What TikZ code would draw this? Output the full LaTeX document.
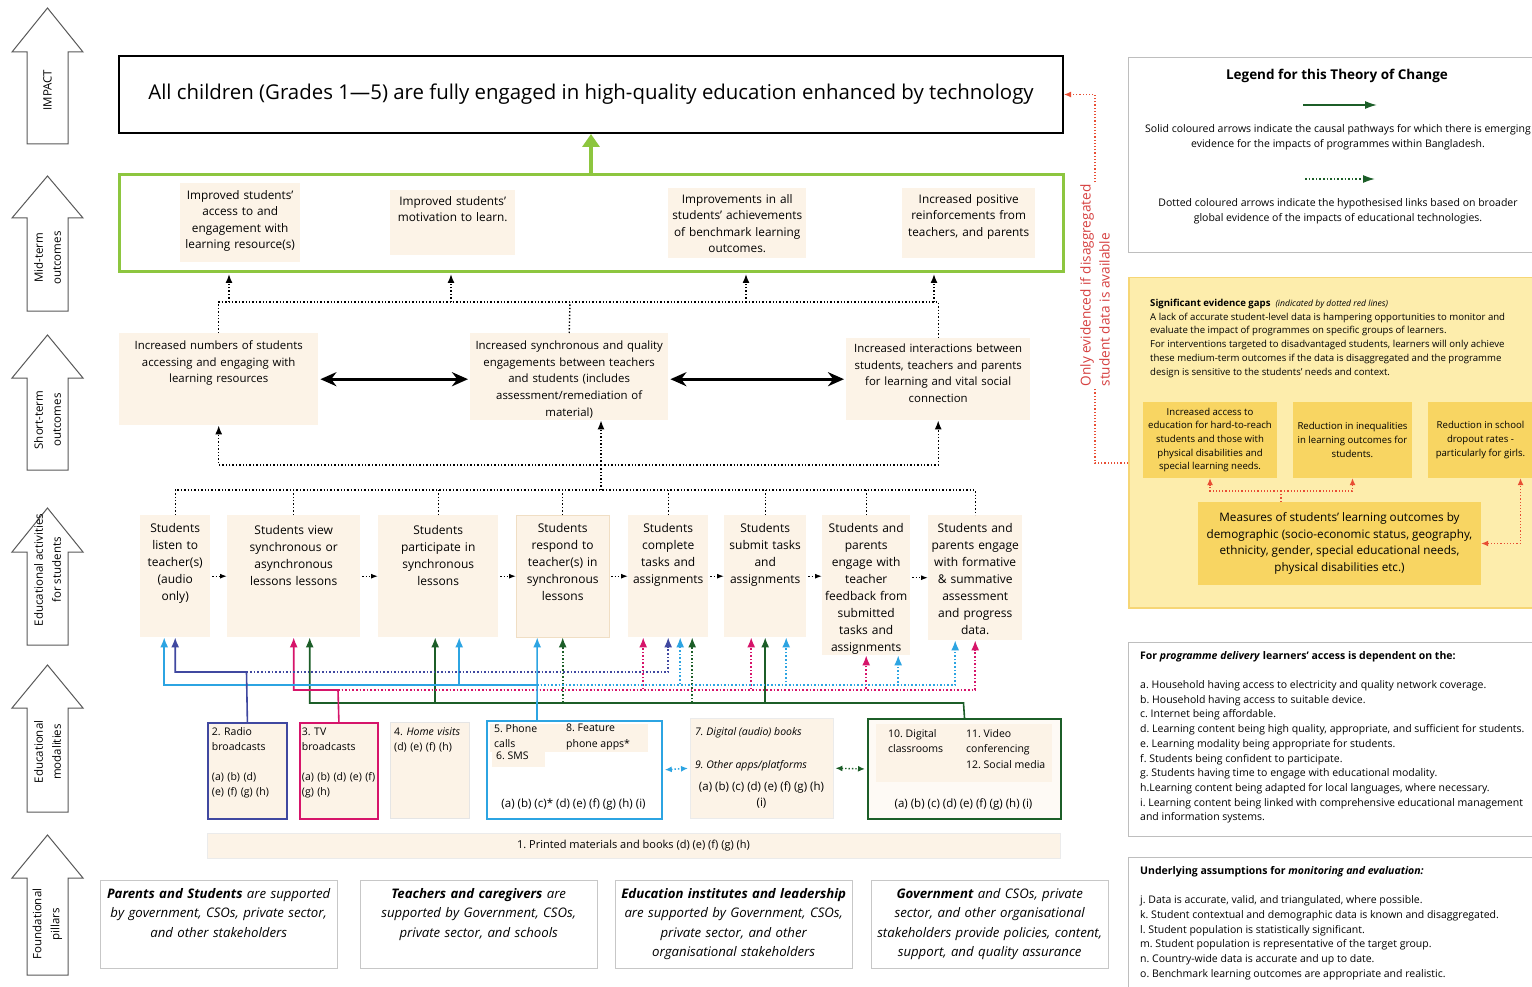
\documentclass[tikz,border=0pt]{standalone}
\usepackage{fontspec}
\setmainfont{Open Sans}
\usetikzlibrary{arrows.meta, positioning}

\definecolor{beige}{RGB}{252,243,231}
\definecolor{ltgreen}{RGB}{141,198,63}
\definecolor{navyline}{RGB}{64,72,160}
\definecolor{magline}{RGB}{214,20,106}
\definecolor{skyline}{RGB}{44,164,226}
\definecolor{dkgreen}{RGB}{28,94,40}
\definecolor{redline}{RGB}{232,78,52}
\definecolor{redtext}{RGB}{214,64,64}
\definecolor{panelfill}{RGB}{253,237,172}
\definecolor{paneledge}{RGB}{246,214,118}
\definecolor{gold}{RGB}{248,213,98}
\definecolor{frame}{RGB}{190,190,190}

\newcommand{\fs}[2]{\fontsize{#1}{#2}\selectfont}
\frenchspacing

\begin{document}
\begin{tikzpicture}[x=1pt, y=-1pt,
    bigarrow/.style = {draw=black!65, fill=white, line width=1pt},
    sidelab/.style = {rotate=90, align=center, font=\fs{11.5}{18}},
    cell/.style = {fill=beige, anchor=north west, align=center, inner xsep=3pt, inner ysep=0pt},
    midcell/.style = {cell, font=\fs{11.8}{16.5}},
    shortcell/.style = {cell, font=\fs{11.4}{16.8}, text height=16pt},
    actcell/.style = {cell, font=\fs{12}{17}, text height=17pt},
    modbox/.style = {fill=beige, anchor=north west, align=left, inner xsep=4pt, inner ysep=0pt, font=\fs{10.5}{15}, text height=13pt, text depth=83pt},
    modtext/.style = {anchor=north west, align=left, inner sep=0pt, font=\fs{10.5}{15.5}},
    pillar/.style = {draw=black!22, fill=white, anchor=north west, align=center, text width=233pt, inner xsep=2pt, inner ysep=0pt, text height=18pt, text depth=70pt, font=\itshape\fs{13.2}{19.5}},
    infobox/.style = {draw=frame, line width=1.2pt, anchor=north west},
    dotline/.style = {line width=1.4pt, dotted},
    dotarrow/.style = {dotline, -{Latex[length=9pt, width=7pt]}},
    steparrow/.style = {line width=1.2pt, dotted, -{Latex[length=7pt, width=5pt]}, shorten <=2pt},
    colarrow/.style = {line width=1.6pt, -{Latex[length=10pt, width=8pt]}},
    coldots/.style = {line width=1.6pt, dotted, -{Latex[length=10pt, width=8pt]}},
    moddots/.style = {line width=1.4pt, dotted, {Latex[length=7pt, width=6pt]}-{Latex[length=7pt, width=6pt]}, shorten <=2pt, shorten >=2pt},
    redarrow/.style = {redline, line width=1.2pt, dotted, -{Latex[length=7pt, width=6pt]}},
    gapcell/.style = {fill=gold, align=center, inner sep=0pt, font=\fs{9.6}{13.7}},
]
\fill[white] (0,0) rectangle (1532,987);
\useasboundingbox (0,0) rectangle (1532,987);

% level arrows on the left
\draw[bigarrow] (47.5,8) -- (83,52) -- (68,52) -- (68,144) -- (27,144) -- (27,52) -- (12,52) -- cycle;
\node[sidelab] (lvimpact) at (47.5,90) {IMPACT};
\draw[bigarrow] (47.5,176) -- (83,218) -- (68,218) -- (68,311) -- (27,311) -- (27,218) -- (12,218) -- cycle;
\node[sidelab] (lvmid) at (47.5,258) {Mid-term\\outcomes};
\draw[bigarrow] (47.5,335) -- (83,378) -- (68,378) -- (68,470) -- (27,470) -- (27,378) -- (12,378) -- cycle;
\node[sidelab] (lvshort) at (47.5,420) {Short-term\\outcomes};
\draw[bigarrow] (47.5,508) -- (83,552) -- (68,552) -- (68,645) -- (27,645) -- (27,552) -- (12,552) -- cycle;
\node[sidelab] (lvact) at (47.5,570) {Educational activities\\for students};
\draw[bigarrow] (47.5,665) -- (83,708) -- (68,708) -- (68,812) -- (27,812) -- (27,708) -- (12,708) -- cycle;
\node[sidelab] (lvmod) at (47.5,752) {Educational\\modalities};
\draw[bigarrow] (47.5,835) -- (83,878) -- (68,878) -- (68,975) -- (27,975) -- (27,878) -- (12,878) -- cycle;
\node[sidelab] (lvpil) at (47.5,924) {Foundational\\pillars};

% impact and mid-term outcomes
\node[draw=black, line width=2pt, minimum width=944pt, minimum height=77pt, font=\fs{20.4}{24}] (impact) at (591,94.5) {All children (Grades 1—5) are fully engaged in high-quality education enhanced by technology};
\node[draw=ltgreen, line width=3pt, minimum width=944pt, minimum height=97pt] (midbox) at (591,223.5) {};
\draw[ltgreen, line width=4pt, -{Triangle[length=13pt, width=17pt]}] (midbox.north) -- (impact.south);

\node[midcell, text width=114pt, text height=16pt, text depth=63pt] (m1) at (180,183) {Improved students'\\access to and\\engagement with\\learning resource(s)};
\node[midcell, text width=119pt, text height=15pt, text depth=50pt] (m2) at (390,190) {Improved students'\\motivation to learn.};
\node[midcell, text width=134pt, inner xsep=2pt, text height=15pt, text depth=55pt] (m3) at (668,188) {Improvements in all\\students' achievements\\of benchmark learning\\outcomes.};
\node[midcell, text width=127pt, text height=15pt, text depth=55pt] (m4) at (902,188) {Increased positive\\reinforcements from\\teachers, and parents};

% short-term outcomes
\node[shortcell, text width=193pt, text depth=76pt] (s1) at (119,333) {Increased numbers of students\\accessing and engaging with\\learning resources};
\node[shortcell, text width=192pt, text depth=71pt] (s2) at (470,333) {Increased synchronous and quality\\engagements between teachers\\and students (includes\\assessment/remediation of\\material)};
\node[shortcell, text width=178pt, text height=14pt, text depth=68pt] (s3) at (846,338) {Increased interactions between\\students, teachers and parents\\for learning and vital social\\connection};

\draw[line width=3pt, {Stealth[length=16pt, width=14pt]}-{Stealth[length=16pt, width=14pt]}, shorten <=2pt, shorten >=2pt] (s1.east) -- (s1.east -| s2.west);
\draw[line width=3pt, {Stealth[length=16pt, width=14pt]}-{Stealth[length=16pt, width=14pt]}, shorten <=2pt, shorten >=2pt] (s3.west -| s2.east) -- (s3.west);

\coordinate (midjoin) at (570,302);
\coordinate (up1) at (229,274);
\coordinate (up2) at (451,274);
\coordinate (up3) at (746,274);
\coordinate (up4) at (934,274);
\draw[dotline] (s1.north) |- (midjoin) -| (s3.north);
\draw[dotline] (s2.north) -- (midjoin);
\draw[dotarrow] (up1 |- midjoin) -- (up1);
\draw[dotarrow] (up2 |- midjoin) -- (up2);
\draw[dotarrow] (up3 |- midjoin) -- (up3);
\draw[dotarrow] (up4 |- midjoin) -- (up4);

% educational activities
\node[actcell, text width=64pt, text depth=105pt] (a1) at (140,515) {Students\\listen to\\teacher(s)\\(audio\\only)};
\node[actcell, text width=127pt, text height=19pt, text depth=103pt] (a2) at (227,515) {Students view\\synchronous or\\asynchronous\\lessons lessons};
\node[actcell, text width=114pt, text height=19pt, text depth=103pt] (a3) at (378,515) {Students\\participate in\\synchronous\\lessons};
\node[actcell, draw={rgb,255:red,240;green,222;blue,196}, text width=87pt, text depth=105pt] (a4) at (516,515) {Students\\respond to\\teacher(s) in\\synchronous\\lessons};
\node[actcell, text width=74pt, text depth=105pt] (a5) at (628,515) {Students\\complete\\tasks and\\assignments};
\node[actcell, text width=76pt, text depth=105pt] (a6) at (724,515) {Students\\submit tasks\\and\\assignments};
\node[actcell, text width=88pt, inner xsep=0pt, text depth=123pt] (a7) at (822,515) {Students and\\parents\\engage with\\teacher\\feedback from\\submitted\\tasks and\\assignments};
\node[actcell, text width=92pt, inner xsep=1pt, text depth=108pt] (a8) at (928,515) {Students and\\parents engage\\with formative\\\& summative\\assessment\\and progress\\data.};

\draw[steparrow] (a1.east) -- (a2.west);
\draw[steparrow] (a2.east) -- (a3.west);
\draw[steparrow] (a3.east) -- (a4.west);
\draw[steparrow] (a4.east) -- (a5.west);
\draw[steparrow] (a5.east) -- (a6.west);
\draw[steparrow] (a6.east) -- (a6.east -| a7.west);
\draw[steparrow] (a8.west -| a7.east) -- (a8.west);

\coordinate (actjoin) at (601,490);
\coordinate (shortjoin) at (601,465);
\draw[dotline] (a1.north) |- (actjoin) -| (a8.north);
\foreach \n in {a2,a3,a4,a5,a6,a7}
    \draw[dotline] (\n.north) -- (\n.north |- actjoin);
\draw[dotline] (actjoin) -- (shortjoin);
\draw[dotarrow] (shortjoin) -- (shortjoin |- s2.south);
\draw[dotarrow] (shortjoin) -| (s1.south);
\draw[dotarrow] (shortjoin) -| (s3.south);

% educational modalities
\node[modbox, draw=navyline, line width=1.8pt, text width=71pt] (b2) at (207,722) {2. Radio\\broadcasts\\[15pt](a) (b) (d)\\(e) (f) (g) (h)};
\node[modbox, draw=magline, line width=1.8pt, inner xsep=2pt, text width=74pt] (b3) at (299,722) {3. TV\\broadcasts\\[15pt](a) (b) (d) (e) (f)\\(g) (h)};
\node[modbox, draw=black!10, text width=71pt] (b4) at (390,722) {4. \textit{Home visits}\\(d) (e) (f) (h)};

\node[draw=skyline, line width=1.8pt, fill=white, anchor=north west, minimum width=175pt, minimum height=98pt] (b5) at (486,720) {};
\fill[beige] (490,724) rectangle (648,752);
\fill[beige] (492,750) rectangle (545,767);
\node[modtext] (phone) at (494,724) {5. Phone\\calls};
\node[modtext] (feature) at (566,724) {8. Feature\\phone apps*};
\node[modtext] (sms) at (496,752) {6. SMS};
\node[font=\fs{11.5}{15}] (b5codes) at (573.5,804) {(a) (b) (c)* (d) (e) (f) (g) (h) (i)};

\node[draw=black!8, fill=beige, anchor=north west, minimum width=143pt, minimum height=100pt] (b7) at (690,718) {};
\node[modtext, font=\itshape\fs{10.5}{15}] (audio) at (695,727) {7. Digital (audio) books};
\node[modtext, font=\itshape\fs{10.5}{15}] (apps) at (695,760) {9. Other apps/platforms};
\node[align=center, font=\fs{11.5}{16}] (b7codes) at (761.5,795) {(a) (b) (c) (d) (e) (f) (g) (h)\\(i)};

\node[draw=dkgreen, line width=2pt, fill=beige!40, anchor=north west, minimum width=193pt, minimum height=100pt] (b10) at (867,718) {};
\fill[beige] (876,724) rectangle (1052,782);
\node[modtext] (classroom) at (888,729) {10. Digital\\classrooms};
\node[modtext] (video) at (966,729) {11. Video\\conferencing\\12. Social media};
\node[font=\fs{11.5}{15}] (b10codes) at (963.5,804) {(a) (b) (c) (d) (e) (f) (g) (h) (i)};

\draw[skyline, moddots] (b5.east) -- (b7.west);
\draw[dkgreen, moddots] (b7.east) -- (b10.west);

\node[fill=beige, draw=black!8, minimum width=853pt, minimum height=25pt, font=\fs{11}{13}] (printed) at (633.5,845.5) {1. Printed materials and books (d) (e) (f) (g) (h)};

% coloured pathways from modalities to activities
\coordinate (navybus) at (246.5,672);
\coordinate (skybus) at (537,685);
\coordinate (magbus) at (338,690);
\coordinate (grnbus) at (963.5,703);

\coordinate (a1sky) at ([xshift=-11pt]a1.south);
\coordinate (a3sky) at ([xshift=21pt]a3.south);
\coordinate (a4sky) at ([xshift=-25.5pt]a4.south);
\coordinate (a5sky) at ([xshift=12pt]a5.south);
\coordinate (a6sky) at ([xshift=21pt]a6.south);
\coordinate (a7sky) at ([xshift=32pt]a7.south);
\coordinate (a8sky) at ([xshift=-20pt]a8.south);
\coordinate (a5mag) at ([xshift=-25pt]a5.south);
\coordinate (a6mag) at ([xshift=-14pt]a6.south);
\coordinate (a2grn) at ([xshift=16pt]a2.south);
\coordinate (a3grn) at ([xshift=-3pt]a3.south);
\coordinate (a5grn) at ([xshift=24pt]a5.south);

\draw[dkgreen, colarrow] (b10.north) -- (grnbus) -| (a2grn);
\draw[dkgreen, colarrow] (grnbus) -| (a3grn);
\draw[dkgreen, colarrow] (grnbus) -| (a6.south);
\draw[dkgreen, coldots] (grnbus -| a4.south) -- (a4.south);
\draw[dkgreen, coldots] (grnbus -| a5grn) -- (a5grn);

\draw[magline, colarrow] (b3.north) -- (magbus) -| (a2.south);
\draw[magline, coldots] (magbus) -| (a5mag);
\draw[magline, coldots] (magbus) -| (a6mag);
\draw[magline, coldots] (magbus) -| (a7.south);
\draw[magline, coldots] (magbus) -| (a8.south);

\draw[skyline, colarrow] (b5.north -| skybus) -- (a4sky);
\draw[skyline, colarrow] (skybus) -| (a1sky);
\draw[skyline, colarrow] (skybus) -| (a3sky);
\draw[skyline, coldots] (skybus) -| (a5sky);
\draw[skyline, coldots] (skybus) -| (a6sky);
\draw[skyline, coldots] (skybus) -| (a7sky);
\draw[skyline, coldots] (skybus) -| (a8sky);

\draw[navyline, colarrow] (b2.north) -- (navybus) -| (a1.south);
\draw[navyline, coldots] (navybus) -| (a5.south);

% foundational pillars
\node[pillar] (p1) at (100,880) {\textbf{Parents and Students} are supported\\by government, CSOs, private sector,\\and other stakeholders};
\node[pillar] (p2) at (360,880) {\textbf{Teachers and caregivers} are\\supported by Government, CSOs,\\private sector, and schools};
\node[pillar] (p3) at (615,880) {\textbf{Education institutes and leadership}\\are supported by Government, CSOs,\\private sector, and other\\organisational stakeholders};
\node[pillar] (p4) at (871,880) {\textbf{Government} and CSOs, private\\sector, and other organisational\\stakeholders provide policies, content,\\support, and quality assurance};

% legend
\node[infobox, minimum width=412pt, minimum height=195pt] (legend) at (1128,57) {};
\node[font=\bfseries\fs{13.5}{16}] (legtitle) at (1337,76) {Legend for this Theory of Change};
\coordinate (solidA) at (1303,105);
\coordinate (solidB) at (1377,105);
\draw[dkgreen, line width=1.6pt, -{Latex[length=12pt, width=8pt]}] (solidA) -- (solidB);
\node[align=center, font=\fs{10.5}{15}] (solidtxt) at (1338,137.5) {Solid coloured arrows indicate the causal pathways for which there is emerging\\evidence for the impacts of programmes within Bangladesh.};
\coordinate (dotA) at (1305,179);
\coordinate (dotB) at (1375,179);
\draw[dkgreen, line width=1.6pt, dotted, -{Latex[length=12pt, width=8pt]}] (dotA) -- (dotB);
\node[align=center, font=\fs{10.5}{15}] (dottxt) at (1338,211.5) {Dotted coloured arrows indicate the hypothesised links based on broader\\global evidence of the impacts of educational technologies.};

% evidence gaps
\node[draw=paneledge, fill=panelfill, line width=1.5pt, anchor=north west, minimum width=420pt, minimum height=330pt] (gapbox) at (1128,277) {};
\node[anchor=north west, align=left, inner sep=0pt, font=\fs{9.6}{13.7}] (gaptxt) at (1150,299) {\textbf{Significant evidence gaps}\ \ {\fs{8.6}{13.7}\itshape(indicated by dotted red lines)}\\A lack of accurate student-level data is hampering opportunities to monitor and\\evaluate the impact of programmes on specific groups of learners.\\For interventions targeted to disadvantaged students, learners will only achieve\\these medium-term outcomes if the data is disaggregated and the programme\\design is sensitive to the students' needs and context.};
\node[gapcell, minimum width=134pt, minimum height=76pt] (g1) at (1210,440) {Increased access to\\education for hard-to-reach\\students and those with\\physical disabilities and\\special learning needs.};
\node[gapcell, minimum width=119pt, minimum height=76pt] (g2) at (1352.5,440) {Reduction in inequalities\\in learning outcomes for\\students.};
\node[gapcell, minimum width=105pt, minimum height=76pt] (g3) at (1480.5,440) {Reduction in school\\dropout rates -\\particularly for girls.};
\node[fill=gold, minimum width=283pt, minimum height=83pt, align=center, font=\fs{11.7}{16.5}] (measures) at (1339.5,543.5) {Measures of students' learning outcomes by\\demographic (socio-economic status, geography,\\ethnicity, gender, special educational needs,\\physical disabilities etc.)};

\coordinate (gapjoin) at (1281,491);
\draw[redline, line width=1.2pt, dotted] (measures.north -| gapjoin) -- (gapjoin);
\draw[redarrow] (gapjoin) -| (g1.south);
\draw[redarrow] (gapjoin) -| (g2.south);
\draw[redarrow, {Latex[length=7pt, width=6pt]}-{Latex[length=7pt, width=6pt]}] (measures.east) -| ([xshift=40pt]g3.south);

\coordinate (redjoin) at (1095,463);
\draw[redarrow] (gapbox.west |- redjoin) -- (redjoin) |- (impact.east);
\node[rotate=90, align=left, fill=white, text=redtext, inner sep=1pt, font=\fs{13.6}{19}] (redlab) at (1095,285.5) {Only evidenced if disaggregated\\student data is available};

% assumptions
\node[infobox, minimum width=412pt, minimum height=194pt] (delivery) at (1128,642) {};
\node[anchor=north west, align=left, inner sep=0pt, font=\fs{10.5}{14.7}] (delivtxt) at (1140,651) {\textbf{For \textit{programme delivery} learners' access is dependent on the:}\\[14.7pt]a. Household having access to electricity and quality network coverage.\\b. Household having access to suitable device.\\c. Internet being affordable.\\d. Learning content being high quality, appropriate, and sufficient for students.\\e. Learning modality being appropriate for students.\\f. Students being confident to participate.\\g. Students having time to engage with educational modality.\\h.Learning content being adapted for local languages, where necessary.\\i. Learning content being linked with comprehensive educational management\\and information systems.};

\node[infobox, minimum width=412pt, minimum height=140pt] (monitor) at (1128,857) {};
\node[anchor=north west, align=left, inner sep=0pt, font=\fs{10.5}{14.7}] (monitxt) at (1140,866) {\textbf{Underlying assumptions for \textit{monitoring and evaluation:}}\\[14.7pt]j. Data is accurate, valid, and triangulated, where possible.\\k. Student contextual and demographic data is known and disaggregated.\\l. Student population is statistically significant.\\m. Student population is representative of the target group.\\n. Country-wide data is accurate and up to date.\\o. Benchmark learning outcomes are appropriate and realistic.};
\end{tikzpicture}
\end{document}
